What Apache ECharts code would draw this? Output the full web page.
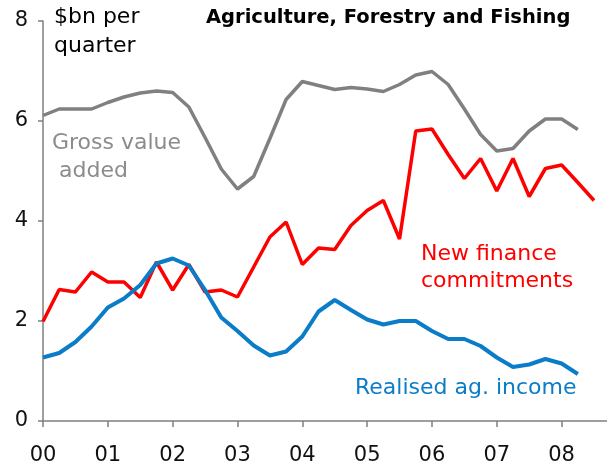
<!DOCTYPE html>
<html>
<head>
<meta charset="utf-8">
<script src="https://cdn.jsdelivr.net/npm/echarts@6/dist/echarts.min.js"></script>
<style>
  html, body { margin: 0; padding: 0; background: #fff; }
  #chart { width: 607px; height: 466px; }
</style>
</head>
<body>
<div id="chart"></div>
<script>
'use strict';

// quarterly data, first point = March quarter 2000
var startYear = 0;
var yearLabels = ['00', '01', '02', '03', '04', '05', '06', '07', '08'];

var grossValueAdded = [6.11, 6.24, 6.24, 6.24, 6.37, 6.48, 6.56, 6.60, 6.57, 6.28, 5.67, 5.04,
  4.64, 4.89, 5.65, 6.43, 6.79, 6.71, 6.63, 6.67, 6.64, 6.59, 6.73, 6.92,
  6.99, 6.73, 6.24, 5.73, 5.40, 5.45, 5.80, 6.04, 6.04, 5.83];

var newFinance = [1.99, 2.63, 2.58, 2.98, 2.78, 2.78, 2.47, 3.18, 2.62, 3.13, 2.58, 2.62,
  2.48, 3.08, 3.68, 3.98, 3.13, 3.46, 3.43, 3.91, 4.21, 4.41, 3.64, 5.80,
  5.84, 5.33, 4.85, 5.25, 4.60, 5.25, 4.49, 5.05, 5.12, 4.77, 4.41];

var realisedIncome = [1.27, 1.36, 1.58, 1.89, 2.27, 2.45, 2.72, 3.15, 3.25, 3.11, 2.62, 2.07,
  1.80, 1.51, 1.31, 1.39, 1.69, 2.19, 2.42, 2.22, 2.03, 1.93, 2.00, 2.00,
  1.80, 1.64, 1.64, 1.50, 1.27, 1.08, 1.13, 1.24, 1.15, 0.94];

var yTicks = [0, 2, 4, 6, 8];

function toPoints(values) {
  return values.map(function (v, i) {
    return [startYear + i / 4, v];
  });
}

var font = 'DejaVu Sans';
var chart = echarts.init(document.getElementById('chart'));

chart.setOption({
  animation: false,
  backgroundColor: '#fff',
  grid: { left: 43, right: 0, top: 21, bottom: 43 },
  xAxis: {
    type: 'value',
    min: 0,
    max: 8.7,
    interval: 1,
    splitLine: { show: false },
    axisLine: { lineStyle: { color: '#7f7f7f', width: 1.5 } },
    axisTick: { length: 6, lineStyle: { color: '#7f7f7f', width: 1.5 } },
    axisLabel: {
      showMaxLabel: false,
      margin: 24,
      color: '#111',
      fontFamily: font,
      fontSize: 21,
      formatter: function (v) {
        return yearLabels[v] !== undefined && v === Math.round(v) ? yearLabels[v] : '';
      }
    }
  },
  yAxis: {
    type: 'value',
    min: yTicks[0],
    max: yTicks[yTicks.length - 1],
    interval: 2,
    splitLine: { show: false },
    axisLine: { show: true, lineStyle: { color: '#7f7f7f', width: 1.5 } },
    axisTick: { show: true, length: 5, lineStyle: { color: '#7f7f7f', width: 1.5 } },
    axisLabel: { margin: 15, color: '#111', fontFamily: font, fontSize: 21 }
  },
  series: [{
    name: 'Gross value added',
    type: 'line',
    data: toPoints(grossValueAdded),
    symbol: 'none',
    lineStyle: { color: '#808080', width: 3.5 }
  }, {
    name: 'New finance commitments',
    type: 'line',
    data: toPoints(newFinance),
    symbol: 'none',
    lineStyle: { color: '#ff0000', width: 3.5 }
  }, {
    name: 'Realised ag. income',
    type: 'line',
    data: toPoints(realisedIncome),
    symbol: 'none',
    lineStyle: { color: '#0a7cc8', width: 4 }
  }],
  graphic: [{
    type: 'text', left: 206, top: 8,
    style: { text: 'Agriculture, Forestry and Fishing', fill: '#000', font: 'bold 19.5px "DejaVu Sans"' }
  }, {
    type: 'text', left: 54, top: 3,
    style: { text: '$bn per\nquarter', fill: '#000', font: '22px "DejaVu Sans"', lineHeight: 29 }
  }, {
    type: 'text', left: 52, top: 129,
    style: { text: 'Gross value\n added', fill: '#8c8c8c', font: '22px "DejaVu Sans"', lineHeight: 28 }
  }, {
    type: 'text', left: 421, top: 241,
    style: { text: 'New finance\ncommitments', fill: '#ff0000', font: '22px "DejaVu Sans"', lineHeight: 27 }
  }, {
    type: 'text', left: 355, top: 376,
    style: { text: 'Realised ag. income', fill: '#0a7cc8', font: '22px "DejaVu Sans"', lineHeight: 24 }
  }]
});
</script>
</body>
</html>
